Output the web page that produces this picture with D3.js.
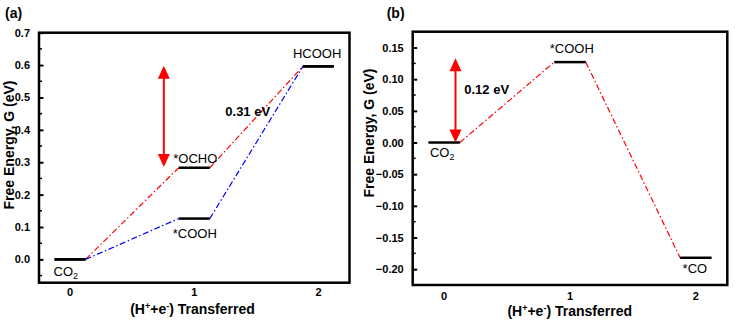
<!DOCTYPE html>
<html>
<head>
<meta charset="utf-8">
<script src="https://cdn.jsdelivr.net/npm/d3@7"></script>
<style>
  body { margin: 0; background: #fff; }
  svg text { font-family: "Liberation Sans", Arial, Helvetica, sans-serif; fill: #000; }
</style>
</head>
<body>
<svg id="chart" width="738" height="331"></svg>
<script>
// steps of (H+ + e-) transferred
var steps = [0, 1, 2];

// panel (a): CO2 -> HCOOH
var ochoEnergy = [0, 0.283, 0.596];
var coohEnergyA = [0, 0.126, 0.596];
var ochoSpecies = ["CO2", "*OCHO", "HCOOH"];
var coohSpeciesA = ["CO2", "*COOH", "HCOOH"];
var yTicksA = [0, 0.1, 0.2, 0.3, 0.4, 0.5, 0.6, 0.7];
var barrierA = [0.285, 0.598];
var barrierTextA = "0.31 eV";

// panel (b): CO2 -> *CO
var coEnergy = [0, 0.127, -0.182];
var coSpecies = ["CO2", "*COOH", "*CO"];
var yTicksB = [-0.20, -0.15, -0.10, -0.05, 0, 0.05, 0.10, 0.15];
var barrierB = [0, 0.133];
var barrierTextB = "0.12 eV";

var svg = d3.select("#chart");

function addSpecies(sel, name) {
  if (name === "CO2") {
    sel.text("CO");
    sel.append("tspan").attr("font-size", 9).attr("dy", 3).text("2");
  } else {
    sel.text(name);
  }
}

function drawPanel(p) {
  var x = d3.scaleLinear().domain([-0.25, 2.25]).range([p.left, p.right]);
  var y = d3.scaleLinear().domain(p.yDomain).range([p.bottom, p.top]);
  var g = svg.append("g");
  var half = 0.125;

  // left axis: inward ticks, no domain line (frame drawn below)
  var minor = [];
  for (var i = 0; i < p.yTicks.length; i++) {
    var t = p.yTicks[i], step = p.yTicks[1] - p.yTicks[0];
    if (t + step / 2 < p.yDomain[1]) minor.push(t + step / 2);
    if (i === 0 && t - step / 2 > p.yDomain[0]) minor.push(t - step / 2);
  }
  g.selectAll(".minor").data(minor).enter().append("line")
    .attr("x1", p.left).attr("x2", p.left + 3)
    .attr("y1", function(d) { return y(d); }).attr("y2", function(d) { return y(d); })
    .attr("stroke", "#000").attr("stroke-width", 1.5);

  var axis = g.append("g")
    .attr("transform", "translate(" + p.left + ",0)")
    .call(d3.axisLeft(y).tickValues(p.yTicks).tickFormat(d3.format(p.fmt)).tickSize(-4.5).tickPadding(9));
  axis.select(".domain").remove();
  axis.selectAll(".tick line").attr("stroke-width", 2);
  axis.selectAll(".tick text")
    .attr("font-size", 11).attr("font-weight", "bold")
    .attr("font-family", "Liberation Sans, Arial, sans-serif");

  // x tick labels (no tick marks)
  g.selectAll(".xlab").data(steps).enter().append("text")
    .attr("x", function(d) { return x(d); })
    .attr("y", p.xTickY)
    .attr("text-anchor", "middle")
    .attr("font-size", 11).attr("font-weight", "bold")
    .text(function(d) { return d; });

  // dash-dot connectors between levels
  p.paths.forEach(function(path) {
    for (var k = 0; k < steps.length - 1; k++) {
      g.append("line")
        .attr("x1", x(steps[k] + half)).attr("y1", y(path.energy[k]))
        .attr("x2", x(steps[k + 1] - half)).attr("y2", y(path.energy[k + 1]))
        .attr("stroke", path.color).attr("stroke-width", 1.2)
        .attr("stroke-dasharray", "6,2.5,1.5,2.5");
    }
  });

  // energy levels
  p.paths.forEach(function(path) {
    g.selectAll(null).data(steps).enter().append("line")
      .attr("x1", function(d) { return x(d - half); })
      .attr("x2", function(d) { return x(d + half); })
      .attr("y1", function(d, i) { return y(path.energy[i]); })
      .attr("y2", function(d, i) { return y(path.energy[i]); })
      .attr("stroke", "#000").attr("stroke-width", 2.5);
  });

  // species labels
  p.labels.forEach(function(l) {
    var t = g.append("text")
      .attr("x", x(l.step - half) + l.dx)
      .attr("y", y(l.energy) + l.dy)
      .attr("font-size", 13);
    addSpecies(t, l.name);
  });

  // double-headed barrier arrow
  var ax = x(p.arrowX), yTop = y(p.barrier[1]), yBot = y(p.barrier[0]);
  var hl = 13, hw = 6;
  g.append("line")
    .attr("x1", ax).attr("x2", ax)
    .attr("y1", yTop + hl - 1).attr("y2", yBot - hl + 1)
    .attr("stroke", "#ff0000").attr("stroke-width", 2);
  g.append("path")
    .attr("d", "M" + ax + "," + yTop + "L" + (ax + hw) + "," + (yTop + hl) + "L" + (ax - hw) + "," + (yTop + hl) + "Z")
    .attr("fill", "#ff0000");
  g.append("path")
    .attr("d", "M" + ax + "," + yBot + "L" + (ax + hw) + "," + (yBot - hl) + "L" + (ax - hw) + "," + (yBot - hl) + "Z")
    .attr("fill", "#ff0000");
  g.append("text")
    .attr("x", x(p.barrierAt[0])).attr("y", y(p.barrierAt[1]))
    .attr("font-size", 13).attr("font-weight", "bold")
    .text(p.barrierText);

  // frame
  g.append("rect")
    .attr("x", p.left).attr("y", p.top)
    .attr("width", p.right - p.left).attr("height", p.bottom - p.top)
    .attr("fill", "none").attr("stroke", "#000").attr("stroke-width", 2.5);

  // axis titles
  g.append("text")
    .attr("transform", "translate(" + p.yTitleX + "," + p.yTitleY + ") rotate(-90)")
    .attr("text-anchor", "middle")
    .attr("font-size", 14).attr("font-weight", "bold")
    .text("Free Energy, G (eV)");

  var xt = g.append("text")
    .attr("x", p.xTitleX).attr("y", p.xTitleY)
    .attr("text-anchor", "middle")
    .attr("font-size", 14).attr("font-weight", "bold");
  xt.append("tspan").text("(H");
  xt.append("tspan").attr("font-size", 9).attr("dy", -5).text("+");
  xt.append("tspan").attr("dy", 5).text("+e");
  xt.append("tspan").attr("font-size", 9).attr("dy", -5).text("-");
  xt.append("tspan").attr("dy", 5).text(") Transferred");

  g.append("text")
    .attr("x", p.tagX).attr("y", 18)
    .attr("font-size", 14).attr("font-weight", "bold")
    .text(p.tag);
}

drawPanel({
  left: 39, right: 349.5, top: 32.7, bottom: 282.7,
  yDomain: [-0.072, 0.7], yTicks: yTicksA, fmt: ".1f",
  xTickY: 296,
  paths: [
    { energy: ochoEnergy, color: "#ff0000" },
    { energy: coohEnergyA, color: "#0000ff" }
  ],
  labels: [
    { step: steps[0], energy: ochoEnergy[0], name: ochoSpecies[0], dx: -1, dy: 17 },
    { step: steps[1], energy: ochoEnergy[1], name: ochoSpecies[1], dx: -5.5, dy: -4.5 },
    { step: steps[2], energy: ochoEnergy[2], name: ochoSpecies[2], dx: -10, dy: -8 },
    { step: steps[1], energy: coohEnergyA[1], name: coohSpeciesA[1], dx: -6, dy: 19 }
  ],
  arrowX: 0.755, barrier: barrierA, barrierText: barrierTextA, barrierAt: [1.25, 0.444],
  yTitleX: 13.5, yTitleY: 145,
  xTitleX: 192.5, xTitleY: 314,
  tag: "(a)", tagX: 5
});

drawPanel({
  left: 412.7, right: 727.3, top: 31.7, bottom: 285,
  yDomain: [-0.225, 0.175], yTicks: yTicksB, fmt: ".2f",
  xTickY: 300,
  paths: [
    { energy: coEnergy, color: "#ff0000" }
  ],
  labels: [
    { step: steps[0], energy: coEnergy[0], name: coSpecies[0], dx: 1.5, dy: 14.5 },
    { step: steps[1], energy: coEnergy[1], name: coSpecies[1], dx: -4.5, dy: -9 },
    { step: steps[2], energy: coEnergy[2], name: coSpecies[2], dx: 2.5, dy: 15 }
  ],
  arrowX: 0.09, barrier: barrierB, barrierText: barrierTextB, barrierAt: [0.16, 0.077],
  yTitleX: 374, yTitleY: 133,
  xTitleX: 569.7, xTitleY: 316,
  tag: "(b)", tagX: 386.7
});
</script>
</body>
</html>
